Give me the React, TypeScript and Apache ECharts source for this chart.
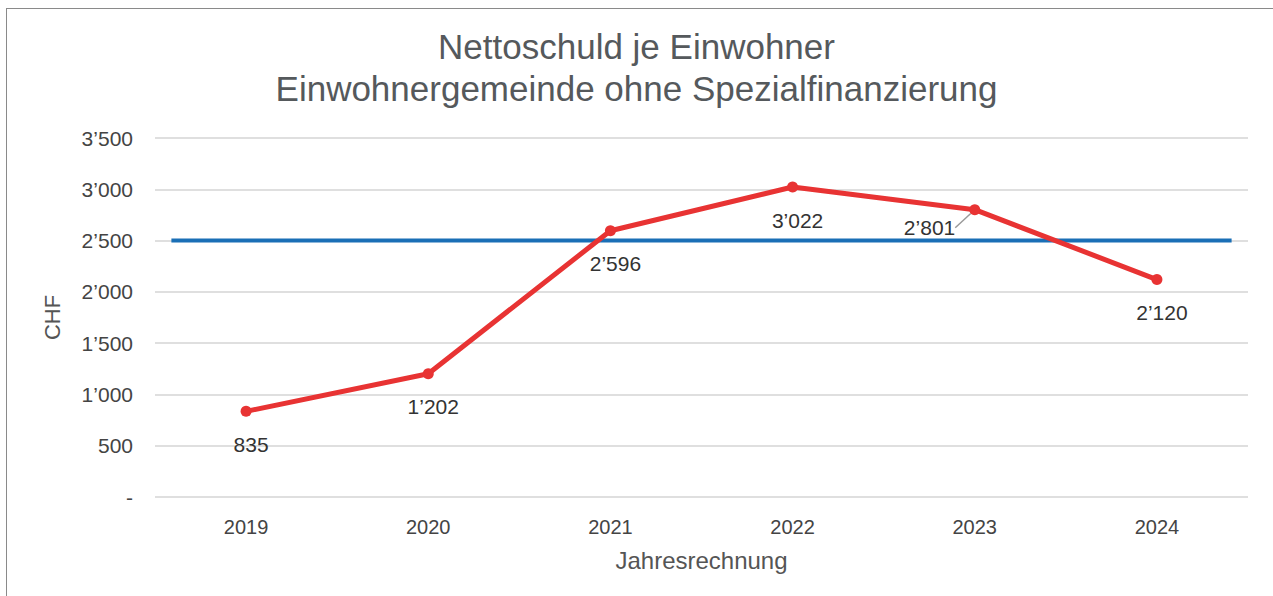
import React, { useEffect, useRef } from "react";
import * as echarts from "echarts";

const years = ["2019", "2020", "2021", "2022", "2023", "2024"];
const nettoschuld = [835, 1202, 2596, 3022, 2801, 2120];
const referenceValue = 2500;
const referenceExtent = [-0.41, 5.41];
const yTicks = { min: 0, max: 3500, interval: 500 };

const fmt = (v: number) => {
  if (v === 0) return "-";
  const s = Math.round(v).toString();
  return s.replace(/\B(?=(\d{3})+(?!\d))/g, "\u2019");
};

const FONT = "Liberation Sans";

export default function App() {
  const ref = useRef<HTMLDivElement>(null);
  useEffect(() => {
    document.body.style.overflow = "hidden";
    document.documentElement.style.overflow = "hidden";
    const chart = echarts.init(ref.current!, null, { renderer: "svg" });
    chart.setOption({
      animation: false,
      backgroundColor: "transparent",
      textStyle: { fontFamily: FONT },
      title: {
        text: "Nettoschuld je Einwohner\nEinwohnergemeinde ohne Spezialfinanzierung",
        left: "center",
        top: 20,
        textStyle: {
          fontFamily: FONT,
          fontSize: 35,
          lineHeight: 42,
          fontWeight: "normal",
          color: "#55595c",
        },
      },
      grid: { left: 155, top: 138, width: 1093, height: 359, containLabel: false },
      xAxis: [
        {
          type: "category",
          data: years,
          boundaryGap: true,
          axisLine: { show: false },
          axisTick: { show: false },
          axisLabel: { color: "#444", fontSize: 20, margin: 20, fontFamily: FONT },
          name: "Jahresrechnung",
          nameLocation: "middle",
          nameGap: 51,
          nameTextStyle: { color: "#555", fontSize: 24, fontFamily: FONT },
        },
        {
          type: "value",
          min: -0.5,
          max: 5.5,
          show: false,
        },
      ],
      yAxis: {
        type: "value",
        min: yTicks.min,
        max: yTicks.max,
        interval: yTicks.interval,
        axisLine: { show: false },
        axisTick: { show: false },
        splitLine: { lineStyle: { color: "#d4d4d4", width: 1.5 } },
        axisLabel: {
          color: "#444",
          fontSize: 21,
          margin: 22,
          fontFamily: FONT,
          formatter: (v: number) => fmt(v),
        },
        name: "CHF",
        nameLocation: "middle",
        nameGap: 92,
        nameRotate: 90,
        nameTextStyle: { color: "#555", fontSize: 22, fontFamily: FONT },
      },
      series: [
        {
          type: "line",
          xAxisIndex: 1,
          data: referenceExtent.map((x) => [x, referenceValue]),
          symbol: "none",
          lineStyle: { color: "#1a6fb6", width: 4 },
          silent: true,
          z: 2,
        },
        {
          type: "line",
          data: nettoschuld.map((v, i) =>
            i === 4
              ? {
                  value: v,
                  label: { position: "left", distance: 0 },
                  labelLine: { show: true, lineStyle: { color: "#999", width: 1.5 } },
                }
              : v
          ),
          symbol: "circle",
          symbolSize: 11,
          itemStyle: { color: "#e83333" },
          lineStyle: { color: "#e83333", width: 5 },
          z: 3,
          label: {
            show: true,
            position: "bottom",
            distance: 17,
            color: "#333",
            fontSize: 21,
            fontFamily: FONT,
            formatter: (p: any) => fmt(p.value),
          },
          labelLayout: (p: any) =>
            p.dataIndex === 4 ? { dx: -14, dy: 18 } : { dx: 5 },
        },
      ],
    });
    return () => chart.dispose();
  }, []);
  return (
    <div>
      <div
        style={{
          position: "absolute",
          left: 6,
          top: 8,
          width: 1300,
          height: 620,
          border: "1.5px solid #8a8a8a",
          boxSizing: "border-box",
        }}
      />
      <div
        ref={ref}
        style={{ position: "absolute", left: 0, top: 0, width: 1273, height: 596 }}
      />
    </div>
  );
}
